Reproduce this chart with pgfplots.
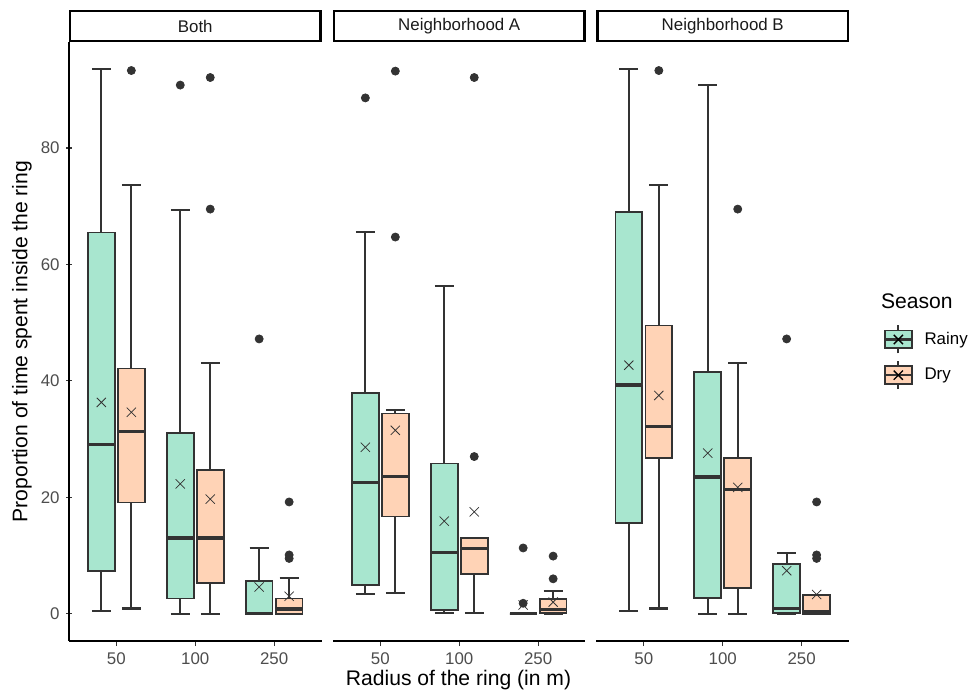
\documentclass[border=0pt]{standalone}
\usepackage{pgfplots}
\pgfplotsset{compat=1.18}
\usepgfplotslibrary{statistics}
\usepackage{fontspec}
\setmainfont{Liberation Sans}
\definecolor{rainy}{HTML}{A8E6CF}
\definecolor{dry}{HTML}{FFD3B6}
\definecolor{grey20}{HTML}{333333}
\definecolor{grey30}{HTML}{4D4D4D}
\definecolor{grey10}{HTML}{1A1A1A}
\pgfplotsset{
  panel/.style={
    scale only axis, width=131.58pt, height=312.15pt,
    xmin=0.4, xmax=3.6, ymin=-4.68, ymax=98.2,
    axis x line=bottom,
    axis line style={-, black, line width=0.9pt},
    xtick={1,2,3}, xticklabels={50,100,250},
    tick align=outside, major tick length=2.7pt,
    tick style={grey20, line width=0.6pt},
    tick label style={font=\fontsize{8.8}{10}\selectfont, text=grey30},
    /pgf/number format/assume math mode=true,
    clip=false,
    anchor=south west,
    every axis title shift=0pt,
    title style={at={(0.5,1)}, anchor=south, yshift=0pt, draw=black, line width=1.1pt,
      minimum width=130.5pt, minimum height=15.58pt, inner sep=0pt,
      font=\fontsize{8.8}{10}\selectfont, text=grey10},
    boxplot/draw direction=y,
    boxplot/box extend=0.34,
    boxplot/whisker extend=0.24,
    boxplot/every median/.style={line width=1.7pt},
    boxplot/every whisker/.style={line width=1.1pt},
    boxplot/every average/.style={/tikz/mark=x, /tikz/mark size=3.4pt, draw=black, line width=0.7pt, solid},
  },
  rb/.style={forget plot, draw=grey20, solid, fill=rainy, boxplot/every box/.style={fill=rainy, line width=0.9pt}},
  db/.style={forget plot, draw=grey20, solid, fill=dry, boxplot/every box/.style={fill=dry, line width=0.9pt}},
  out/.style={forget plot, only marks, mark=*, mark size=2.1pt, draw=grey20, fill=grey20},
}
\begin{document}
\begin{tikzpicture}
\useasboundingbox (0,0) rectangle (506pt,362.17pt);

% ---------------- Panel: Both ----------------
\begin{axis}[panel, at={(35.96pt,28.14pt)}, title={Both},
  axis y line=left, y axis line style={-}, every outer y axis line/.append style={-}, every inner y axis line/.append style={-},
  ytick={0,20,40,60,80}]
\addplot[rb, boxplot prepared={draw position=0.81, lower whisker=0.4, lower quartile=7.3, median=29.1, upper quartile=65.5, upper whisker=93.5, average=36.3}] coordinates {};
\addplot[db, boxplot prepared={draw position=1.19, lower whisker=0.9, lower quartile=19.1, median=31.3, upper quartile=42.1, upper whisker=73.7, average=34.6}] coordinates {};
\addplot[rb, boxplot prepared={draw position=1.81, lower whisker=0.0, lower quartile=2.6, median=13.0, upper quartile=31.1, upper whisker=69.3, average=22.3}] coordinates {};
\addplot[db, boxplot prepared={draw position=2.19, lower whisker=0.0, lower quartile=5.3, median=13.0, upper quartile=24.7, upper whisker=43.0, average=19.7}] coordinates {};
\addplot[rb, boxplot prepared={draw position=2.81, lower whisker=0.0, lower quartile=0.0, median=0.1, upper quartile=5.6, upper whisker=11.3, average=4.6}] coordinates {};
\addplot[db, boxplot prepared={draw position=3.19, lower whisker=0.0, lower quartile=0.0, median=0.8, upper quartile=2.6, upper whisker=6.1, average=3.0}] coordinates {};
\addplot[out] coordinates {(1.19,93.3) (1.81,90.8) (2.19,92.1) (2.19,69.5) (2.81,47.2) (3.19,19.2) (3.19,10.1) (3.19,9.5)};
\end{axis}

% ---------------- Panel: Neighborhood A ----------------
\begin{axis}[panel, at={(173.53pt,28.14pt)}, title={Neighborhood A},
  axis y line=none, ytick=\empty]
\addplot[rb, boxplot prepared={draw position=0.81, lower whisker=3.4, lower quartile=5.0, median=22.5, upper quartile=37.9, upper whisker=65.5, average=28.6}] coordinates {};
\addplot[db, boxplot prepared={draw position=1.19, lower whisker=3.5, lower quartile=16.7, median=23.6, upper quartile=34.4, upper whisker=35.0, average=31.5}] coordinates {};
\addplot[rb, boxplot prepared={draw position=1.81, lower whisker=0.2, lower quartile=0.7, median=10.5, upper quartile=25.8, upper whisker=56.3, average=15.9}] coordinates {};
\addplot[db, boxplot prepared={draw position=2.19, lower whisker=0.1, lower quartile=6.8, median=11.2, upper quartile=13.0, upper whisker=13.0, average=17.5}] coordinates {};
\addplot[rb, boxplot prepared={draw position=2.81, lower whisker=0.0, lower quartile=0.0, median=0.0, upper quartile=0.0, upper whisker=0.0, average=1.5}] coordinates {};
\addplot[db, boxplot prepared={draw position=3.19, lower whisker=0.0, lower quartile=0.1, median=0.7, upper quartile=2.5, upper whisker=3.9, average=2.0}] coordinates {};
\addplot[out] coordinates {(0.81,88.6) (1.19,93.2) (1.19,64.7) (2.19,92.1) (2.19,27.0) (2.81,11.3) (2.81,1.8) (3.19,9.9) (3.19,6.0)};
\end{axis}

% ---------------- Panel: Neighborhood B ----------------
\begin{axis}[panel, at={(310.84pt,28.14pt)}, title={Neighborhood B},
  axis y line=none, ytick=\empty,
  legend cell align=left,
  legend style={draw=none, fill=none, at={(1.1358,0.4736)}, anchor=west, inner sep=0pt,
    row sep=3pt, column sep=4pt, font=\fontsize{8.8}{10}\selectfont, text=black}]
\addplot[rb, boxplot prepared={draw position=0.81, lower whisker=0.4, lower quartile=15.6, median=39.3, upper quartile=69.0, upper whisker=93.5, average=42.7}] coordinates {};
\addplot[db, boxplot prepared={draw position=1.19, lower whisker=0.9, lower quartile=26.8, median=32.1, upper quartile=49.5, upper whisker=73.7, average=37.5}] coordinates {};
\addplot[rb, boxplot prepared={draw position=1.81, lower whisker=0.0, lower quartile=2.7, median=23.5, upper quartile=41.5, upper whisker=90.8, average=27.6}] coordinates {};
\addplot[db, boxplot prepared={draw position=2.19, lower whisker=0.0, lower quartile=4.4, median=21.4, upper quartile=26.8, upper whisker=43.0, average=21.7}] coordinates {};
\addplot[rb, boxplot prepared={draw position=2.81, lower whisker=0.0, lower quartile=0.1, median=0.9, upper quartile=8.5, upper whisker=10.4, average=7.4}] coordinates {};
\addplot[db, boxplot prepared={draw position=3.19, lower whisker=0.0, lower quartile=0.0, median=0.3, upper quartile=3.2, upper whisker=3.2, average=3.3}] coordinates {};
\addplot[out] coordinates {(1.19,93.3) (2.19,69.5) (2.81,47.2) (3.19,19.2) (3.19,10.1) (3.19,9.5)};
\addlegendimage{legend image code/.code={
  \draw[grey20, line width=1.0pt] (7.05pt,-7.3pt) -- (7.05pt,7.3pt);
  \draw[grey20, fill=rainy, line width=0.9pt] (0pt,-4.6pt) rectangle (14.1pt,4.6pt);
  \draw[grey20, line width=1.2pt] (0pt,0pt) -- (14.1pt,0pt);
  \draw[black, line width=0.7pt] (4.65pt,-2.4pt) -- (9.45pt,2.4pt) (4.65pt,2.4pt) -- (9.45pt,-2.4pt);
}}
\addlegendentry{Rainy}
\addlegendimage{legend image code/.code={
  \draw[grey20, line width=1.0pt] (7.05pt,-7.3pt) -- (7.05pt,7.3pt);
  \draw[grey20, fill=dry, line width=0.9pt] (0pt,-4.6pt) rectangle (14.1pt,4.6pt);
  \draw[grey20, line width=1.2pt] (0pt,0pt) -- (14.1pt,0pt);
  \draw[black, line width=0.7pt] (4.65pt,-2.4pt) -- (9.45pt,2.4pt) (4.65pt,2.4pt) -- (9.45pt,-2.4pt);
}}
\addlegendentry{Dry}
\end{axis}

\node[anchor=west, inner sep=0pt, font=\fontsize{11}{13}\selectfont] at (458.9pt,205.3pt) {Season};
\node[rotate=90, inner sep=0pt, font=\fontsize{11}{13}\selectfont] at (11.46pt,184.2pt) {Proportion of time spent inside the ring};
\node[inner sep=0pt, font=\fontsize{11}{13}\selectfont] at (238.93pt,8pt) {Radius of the ring (in m)};
\end{tikzpicture}
\end{document}
